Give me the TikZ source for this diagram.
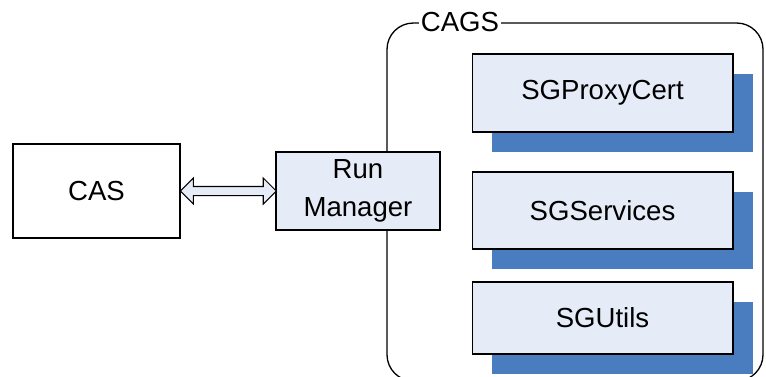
\documentclass[tikz,border=0pt]{standalone}
\usepackage{fontspec}
\setmainfont{Liberation Sans}
\usetikzlibrary{shapes.arrows,shadows}
\definecolor{boxfill}{RGB}{230,236,247}
\definecolor{shadowblue}{RGB}{74,124,192}

\begin{document}
\begin{tikzpicture}[x=0.02cm,y=-0.02cm,
   every node/.style={font=\fontsize{15.7}{21.5}\selectfont},
   pkg/.style={draw,line width=0.6pt,fill=boxfill,minimum width=5.22cm,
               drop shadow={shadow xshift=0.4cm,shadow yshift=-0.4cm,fill=shadowblue,opacity=1}}]
  \useasboundingbox (0,0) rectangle (766,376);
  \clip (0,0) rectangle (766,376);
  % CAGS frame
  \draw[line width=0.75pt,rounded corners=15] (387,23) rectangle (763,381);
  \node[fill=white,inner sep=1pt] (cags) at (460,22) {CAGS};

  \node[draw,line width=1.2pt,minimum width=3.34cm,minimum height=1.88cm] (cas) at (96.5,191) {CAS};
  \node[draw,line width=0.6pt,fill=boxfill,minimum width=3.28cm,minimum height=1.56cm,align=center] (rm) at (358,191) {Run\\Manager};

  \path (cas.east) -- node[double arrow,draw,line width=0.6pt,fill=boxfill,minimum height=1.92cm,
        inner sep=0.08cm,minimum width=0pt,double arrow head extend=0.17cm] (link) {} (rm.west);

  \node[pkg,minimum height=1.56cm] (proxy) at (602.5,93) {SGProxyCert};
  \node[pkg,minimum height=1.54cm] (serv) at (602.5,210.5) {SGServices};
  \node[pkg,minimum height=1.44cm] (utils) at (602.5,318) {SGUtils};
\end{tikzpicture}
\end{document}
